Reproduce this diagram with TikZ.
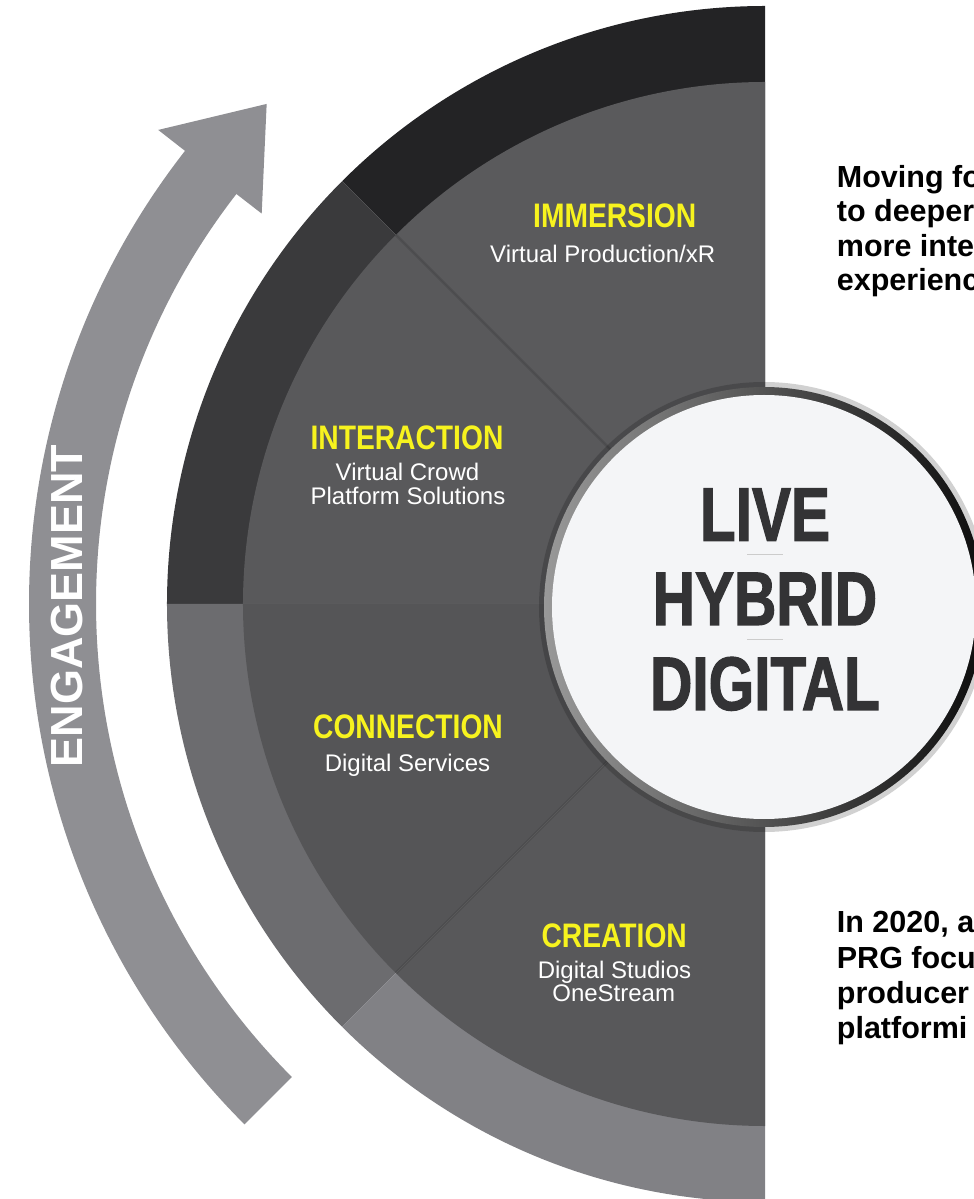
\documentclass[tikz,border=0pt]{standalone}
\usepackage{fontspec}
\setmainfont{Liberation Sans}
\newfontfamily\narrowfont[FakeStretch=0.83]{Liberation Sans}
\newfontfamily\hubfont[FakeStretch=0.77,FakeBold=1.5]{Liberation Sans}

\definecolor{ringA}{HTML}{232325}
\definecolor{ringB}{HTML}{3A3A3C}
\definecolor{ringC}{HTML}{6C6C6F}
\definecolor{ringD}{HTML}{818185}
\definecolor{sectA}{HTML}{5A5A5C}
\definecolor{sectB}{HTML}{59595B}
\definecolor{sectC}{HTML}{555557}
\definecolor{sectD}{HTML}{58585A}
\definecolor{arrowgray}{HTML}{8F8F93}
\definecolor{labelyellow}{HTML}{F7F31E}
\definecolor{hubwhite}{HTML}{F4F5F7}
\definecolor{hubtext}{HTML}{333335}

\begin{document}
\begin{tikzpicture}[x=1pt,y=1pt,
        segtitle/.style={anchor=base,inner sep=0pt,text=labelyellow,font=\narrowfont\bfseries\fontsize{34}{34}\selectfont},
        segsub/.style={anchor=base,inner sep=0pt,text=white,font=\fontsize{24}{24}\selectfont},
        hubword/.style={anchor=base,inner sep=0pt,text=hubtext,font=\hubfont\bfseries\fontsize{76}{76}\selectfont},
        sidetext/.style={anchor=base west,inner sep=0pt,font=\bfseries\fontsize{30.5}{35}\selectfont},
        sepline/.style={draw=black!20,line width=1pt}]
            \useasboundingbox (-765,-595) rectangle (209,604);
            \coordinate (c) at (0,0);
            \coordinate (hub) at (-1,-3);

            % engagement arrow
            \fill[arrowgray] (225:669) arc[start angle=225,end angle=142.2,radius=669]
                -- (142.2:637) -- (134.9:706) -- (142:770) -- (142:736)
                arc[start angle=142,end angle=225,radius=736] -- cycle;
            \node[rotate=90,inner sep=0pt,text=white,font=\bfseries\fontsize{45}{45}\selectfont] (eng) at (-698,-2) {ENGAGEMENT};

            % half disk, ring and sectors
            \foreach \a/\ring/\sect in {90/ringA/sectA,135/ringB/sectB,180/ringC/sectC,225/ringD/sectD} {
                \fill[\ring] (c) -- (\a:598) arc[start angle=\a,delta angle=45,radius=598] -- cycle;
                \fill[\sect] (c) -- (\a:522) arc[start angle=\a,delta angle=45,radius=522] -- cycle;
            }
            \foreach \a in {135,225}
                \draw[black,opacity=.1,line width=3pt] (c) -- (\a:522);

            % hub
            \fill[black,opacity=.18] (hub) circle (225);
            \shade[left color=black!40,middle color=black!8,right color=black!95] (hub) circle (220);
            \fill[hubwhite] (hub) circle (212);

            \node[hubword] (live) at (0,63.3) {LIVE};
            \node[hubword] (hybrid) at (0,-21) {HYBRID};
            \node[hubword] (digital) at (0,-106) {DIGITAL};
            \draw[sepline] (-18,49.7) -- (18,49.7);
            \draw[sepline] (-18,-36) -- (18,-36);

            % segment labels
            \node[segtitle] (imm) at (-150.3,376.3) {IMMERSION};
            \node[segsub] (immsub) at (-162.3,341.7) {Virtual Production/xR};
            \node[segtitle] (int) at (-358,154.7) {INTERACTION};
            \node[segsub] (intsuba) at (-357.5,123) {Virtual Crowd};
            \node[segsub] (intsubb) at (-357,99.7) {Platform Solutions};
            \node[segtitle] (con) at (-357,-134.5) {CONNECTION};
            \node[segsub] (consub) at (-357.5,-167) {Digital Services};
            \node[segtitle] (cre) at (-150.8,-343.3) {CREATION};
            \node[segsub] (cresuba) at (-150.5,-374.3) {Digital Studios};
            \node[segsub] (cresubb) at (-151.3,-397.7) {OneStream};

            % side notes, cut by the page edge
            \foreach \t [count=\i] in {Moving fo,to deeper,more inte,experienc}
                \node[sidetext] (top\i) at (71.7,451.2-34.5*\i) {\t};
            \foreach \t [count=\i] in {{In 2020, a},PRG focu,producer,platformi}
                \node[sidetext] (low\i) at (71.7,-293.4-35.3*\i) {\t};
        \end{tikzpicture}
\end{document}
